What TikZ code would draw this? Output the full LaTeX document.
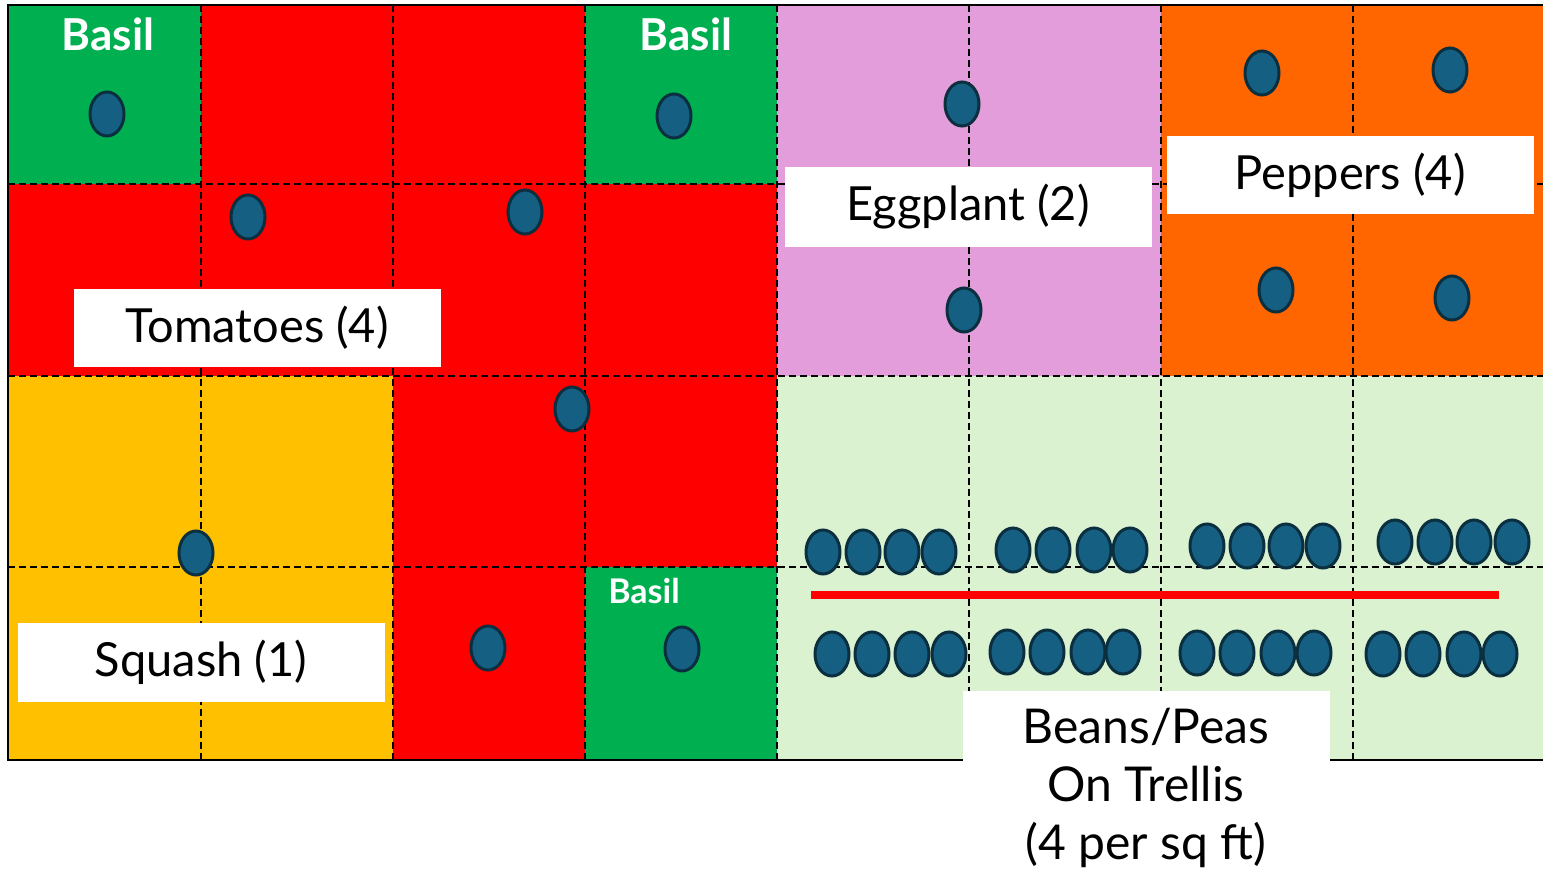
\documentclass[tikz,border=0pt]{standalone}
\usepackage{fontspec}
\setmainfont{Lato}
\usepackage{tikz}
\usetikzlibrary{shapes.geometric}
\usepackage{xcolor}

\definecolor{basilgreen}{HTML}{00B050}
\definecolor{tomatored}{HTML}{FF0000}
\definecolor{eggpink}{HTML}{E29DDA}
\definecolor{pepperorange}{HTML}{FF6600}
\definecolor{squashyellow}{HTML}{FFC000}
\definecolor{beangreen}{HTML}{DAF2D0}
\definecolor{plantblue}{HTML}{156082}
\definecolor{plantedge}{HTML}{0C2F40}

\tikzset{
  plant/.style={ellipse, draw=plantedge, fill=plantblue, line width=3pt,
    minimum width=34pt, minimum height=44pt, inner sep=0pt},
  cropbox/.style={fill=white, minimum width=367pt, minimum height=78pt,
    inner sep=0pt, font=\fontsize{47}{56}\selectfont},
  basiltext/.style={text=white, anchor=base, font=\bfseries\fontsize{44}{48}\selectfont},
  gridline/.style={line width=2pt, dash pattern=on 7pt off 4pt},
}

\begin{document}
\begin{tikzpicture}[x=1pt, y=-1pt]
        \useasboundingbox (0,0) rectangle (1543,872);

        % Basil squares
        \fill[basilgreen] (8,5) rectangle (201,184);
        \fill[basilgreen] (585,5) rectangle (777,184);
        \fill[basilgreen] (585,567) rectangle (777,760);
        % Tomato squares
        \fill[tomatored] (201,5) rectangle (585,184);
        \fill[tomatored] (8,184) rectangle (777,376);
        \fill[tomatored] (393,376) rectangle (777,567);
        \fill[tomatored] (393,567) rectangle (585,760);
        % Eggplant, peppers, squash, beans
        \fill[eggpink] (777,5) rectangle (1161,376);
        \fill[pepperorange] (1161,5) rectangle (1545,376);
        \fill[squashyellow] (8,376) rectangle (393,760);
        \fill[beangreen] (777,376) rectangle (1545,760);

        % One foot grid
        \draw[gridline] (201,5) -- (201,760);
        \draw[gridline] (393,5) -- (393,760);
        \draw[gridline] (585,5) -- (585,760);
        \draw[gridline] (777,5) -- (777,760);
        \draw[gridline] (969,5) -- (969,760);
        \draw[gridline] (1161,5) -- (1161,760);
        \draw[gridline] (1353,5) -- (1353,760);
        \draw[gridline] (8,184) -- (1545,184);
        \draw[gridline] (8,376) -- (1545,376);
        \draw[gridline] (8,567) -- (1545,567);
        \draw[line width=2.5pt] (8,5) rectangle (1545,760);

        % Trellis
        \coordinate (trellisL) at (811,595);
        \coordinate (trellisR) at (1499,595);
        \draw[tomatored, line width=8pt] (trellisL) -- (trellisR);

        % Basil
        \node[basiltext] (basilA) at (108,51) {Basil};
        \node[basiltext] (basilB) at (686,51) {Basil};
        \node[basiltext, font=\bfseries\fontsize{34}{38}\selectfont] (basilC) at (644,603) {Basil};
        \node[plant] (basilP1) at (107,114) {};
        \node[plant] (basilP2) at (674,116) {};
        \node[plant] (basilP3) at (682,649) {};

        % Tomatoes
        \node[plant] (tomato1) at (248,217) {};
        \node[plant] (tomato2) at (525,212) {};
        \node[plant] (tomato3) at (572,409) {};
        \node[plant] (tomato4) at (488,648) {};

        % Eggplant and peppers
        \node[plant] (egg1) at (962,104) {};
        \node[plant] (egg2) at (964,310) {};
        \node[plant] (pepper1) at (1262,73) {};
        \node[plant] (pepper2) at (1450,70) {};
        \node[plant] (pepper3) at (1276,290) {};
        \node[plant] (pepper4) at (1452,298) {};

        % Squash
        \node[plant] (squash1) at (196,553) {};

        % Beans, top row
        \node[plant] (beanA1) at (823,552) {}; \node[plant] (beanA2) at (863,552) {}; \node[plant] (beanA3) at (902,552) {}; \node[plant] (beanA4) at (939,552) {};
        \node[plant] (beanB1) at (1013,550) {}; \node[plant] (beanB2) at (1053,550) {}; \node[plant] (beanB3) at (1094,550) {}; \node[plant] (beanB4) at (1130,550) {};
        \node[plant] (beanC1) at (1207,546) {}; \node[plant] (beanC2) at (1247,546) {}; \node[plant] (beanC3) at (1286,546) {}; \node[plant] (beanC4) at (1323,546) {};
        \node[plant] (beanD1) at (1395,542) {}; \node[plant] (beanD2) at (1435,542) {}; \node[plant] (beanD3) at (1474,542) {}; \node[plant] (beanD4) at (1512,542) {};
        % Beans, bottom row
        \node[plant] (beanE1) at (832,654) {}; \node[plant] (beanE2) at (872,654) {}; \node[plant] (beanE3) at (912,654) {}; \node[plant] (beanE4) at (949,654) {};
        \node[plant] (beanF1) at (1007,652) {}; \node[plant] (beanF2) at (1047,652) {}; \node[plant] (beanF3) at (1088,652) {}; \node[plant] (beanF4) at (1123,652) {};
        \node[plant] (beanG1) at (1197,653) {}; \node[plant] (beanG2) at (1237,653) {}; \node[plant] (beanG3) at (1278,653) {}; \node[plant] (beanG4) at (1314,653) {};
        \node[plant] (beanH1) at (1383,654) {}; \node[plant] (beanH2) at (1423,654) {}; \node[plant] (beanH3) at (1464,654) {}; \node[plant] (beanH4) at (1500,654) {};

        % Crop labels
        \node[cropbox] (tomatoes) at (257,328) {Tomatoes (4)};
        \node[cropbox, minimum height=79pt] (eggplant) at (968,207) {Eggplant (2)};
        \node[cropbox] (peppers) at (1350,175) {Peppers (4)};
        \node[cropbox, minimum height=79pt] (squash) at (201,662) {Squash (1)};
        \node[cropbox, anchor=north, align=center, inner ysep=17pt,
              font=\fontsize{48}{58}\selectfont] (beans) at (1146,691)
              {Beans/Peas\\On Trellis\\(4 per sq ft)};
    \end{tikzpicture}
\end{document}
